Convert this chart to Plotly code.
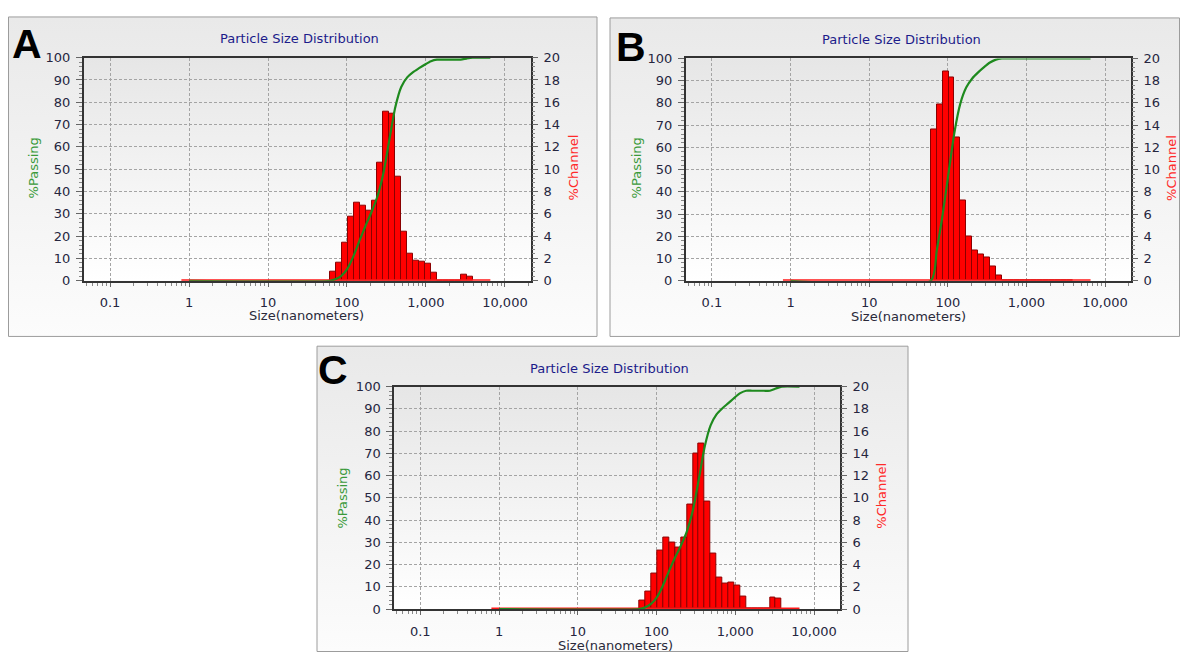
import base64
import numpy as np
import plotly.graph_objects as go

# ---------------- data ----------------
channel_edges_nm = [60.8, 72.3, 85.9, 102.2, 121.5, 144.5, 171.9, 204.4, 243.1, 289.0,
                    343.7, 408.8, 486.1, 578.1, 687.5, 817.6, 972.3, 1156, 1375, 1635,
                    1944, 2312, 2750, 3270, 3890]
channel_A = [0.8, 1.6, 3.4, 5.7, 7.0, 6.7, 6.3, 7.2, 10.6, 15.2, 15.0, 9.3,
             4.4, 2.4, 1.8, 1.7, 1.5, 0.7, 0, 0, 0, 0, 0.5, 0.4]
channel_B = [13.6, 15.9, 18.8, 18.3, 12.9, 7.2, 4.0, 2.7, 2.35, 2.1, 1.3, 0.5,
             0, 0, 0, 0, 0, 0, 0, 0, 0, 0, 0, 0]
channel_C = [0.8, 1.6, 3.2, 5.3, 6.4, 6.0, 5.5, 6.4, 9.4, 14.0, 14.9, 9.7,
             5.0, 2.8, 2.3, 2.4, 2.1, 1.1, 0, 0, 0, 0, 1.0, 0.9]
channel_span_nm = [0.8, 6540]
passing_span_nm = [1.0, 6540]
size_tick_vals = [0.1, 1, 10, 100, 1000, 10000]
size_tick_text = ["0.1", "1", "10", "100", "1,000", "10,000"]
panel_labels = ["A", "B", "C"]
chart_title = "Particle Size Distribution"
x_title = "Size(nanometers)"
y_left_title = "%Passing"
y_right_title = "%Channel"
channels = [channel_A, channel_B, channel_C]

# ---------------- layout geometry (window pixels) ----------------
OFF = 8                      # default page body margin
W, H = 1188 - 2 * OFF, 668 - 2 * OFF
panels = [
    dict(box=(8.5, 10, 597, 337), plot=(84, 51.7, 531, 280), letter=(27, 38), title=(299, 32.5),
         xt=(306, 316), yl=(33, 165), yr=(573, 164)),
    dict(box=(610, 11, 1179.5, 337), plot=(686, 52.5, 1131, 280), letter=(631, 41), title=(901, 33.5),
         xt=(909, 317), yl=(636, 165), yr=(1171.5, 165)),
    dict(box=(317, 347, 908, 659.5), plot=(394.3, 388.3, 840, 616), letter=(333, 371), title=(609, 369.5),
         xt=(616, 653), yl=(343, 503), yr=(882, 500)),
]
XR = [-1.33, 4.33]
FONT = "DejaVu Sans"
TICKC = "#26263f"


def px(x):
    return (x - OFF) / W


def py(y):
    return 1 - (y - OFF) / H


def grad_uri(c0, c1):
    svg = ('<svg xmlns="http://www.w3.org/2000/svg" width="100" height="100" preserveAspectRatio="none">'
           '<defs><linearGradient id="g" x1="0" y1="0" x2="0" y2="1">'
           f'<stop offset="0" stop-color="{c0}"/><stop offset="1" stop-color="{c1}"/>'
           '</linearGradient></defs><rect width="100" height="100" fill="url(#g)"/></svg>')
    return "data:image/svg+xml;base64," + base64.b64encode(svg.encode()).decode()


fig = go.Figure()
layout = dict(width=W, height=H, margin=dict(l=0, r=0, t=0, b=0), paper_bgcolor="white",
              plot_bgcolor="rgba(0,0,0,0)", showlegend=False, font=dict(family=FONT, size=13, color=TICKC))
images, shapes, annotations = [], [], []

edges = np.array(channel_edges_nm)
log_lo = np.log10(edges[:-1])
log_hi = np.log10(edges[1:])

for i, (p, vals) in enumerate(zip(panels, channels)):
    kb, ko = 2 * i + 1, 2 * i + 2
    xb_name = "x" if kb == 1 else f"x{kb}"
    yb_name = "y" if kb == 1 else f"y{kb}"
    xo_name, yo_name = f"x{ko}", f"y{ko}"
    x0, y0, x1, y1 = p["plot"]
    dx = [px(x0), px(x1)]
    dy = [py(y1), py(y0)]
    bx0, by0, bx1, by1 = p["box"]

    # backgrounds
    images.append(dict(source=grad_uri("#e9e9e9", "#fcfcfc"), xref="paper", yref="paper",
                       x=px(bx0), y=py(by0), sizex=px(bx1) - px(bx0), sizey=py(by0) - py(by1),
                       sizing="stretch", layer="below", xanchor="left", yanchor="top"))
    images.append(dict(source=grad_uri("#e6e6e6", "#ffffff"), xref="paper", yref="paper",
                       x=px(x0), y=py(y0), sizex=px(x1) - px(x0), sizey=py(y0) - py(y1),
                       sizing="stretch", layer="below", xanchor="left", yanchor="top"))
    shapes.append(dict(type="rect", xref="paper", yref="paper", x0=px(bx0), x1=px(bx1),
                       y0=py(by1), y1=py(by0), line=dict(color="#9c9c9c", width=1), layer="below"))

    vals = np.array(vals, dtype=float)
    # red channel baseline
    fig.add_trace(go.Scatter(x=np.log10(channel_span_nm), y=[0, 0], mode="lines",
                             line=dict(color="#ff1a1a", width=3), xaxis=xb_name, yaxis=yb_name,
                             hoverinfo="skip"))
    # channel bars
    fig.add_trace(go.Bar(x=(log_lo + log_hi) / 2, y=vals, width=log_hi - log_lo,
                         marker=dict(color="#ff0000", line=dict(color="#8a0000", width=1)),
                         xaxis=xb_name, yaxis=yb_name))
    # cumulative passing
    cum = np.cumsum(vals)
    cum = cum / cum[-1] * 100
    gx = [passing_span_nm[0], channel_edges_nm[0]] + list(edges[1:]) + [passing_span_nm[1]]
    gy = [0, 0] + list(cum) + [100]
    fig.add_trace(go.Scatter(x=gx, y=gy, mode="lines", line=dict(color="#1e8a1e", width=2.2,
                                                                   shape="spline", smoothing=0.6),
                             xaxis=xo_name, yaxis=yo_name, hoverinfo="skip"))

    tf = dict(family=FONT, size=13, color=TICKC)
    layout["xaxis" if kb == 1 else f"xaxis{kb}"] = dict(domain=dx, range=XR, type="linear",
                                                          anchor=yb_name, visible=False, fixedrange=True)
    layout["yaxis" if kb == 1 else f"yaxis{kb}"] = dict(
        domain=dy, range=[0, 20], anchor=xb_name, side="right", dtick=2, tick0=0,
        ticks="outside", ticklen=6, tickcolor="#666", showgrid=False, showline=False,
        zeroline=False, tickfont=tf, ticklabelstandoff=3,
        minor=dict(dtick=0.4, ticks="outside", ticklen=3, tickcolor="#888", showgrid=False))
    layout[f"xaxis{ko}"] = dict(
        type="log", range=XR, overlaying=xb_name, anchor=yo_name, tickmode="array",
        tickvals=size_tick_vals, ticktext=size_tick_text, ticks="outside", ticklen=4,
        tickcolor="#666", showgrid=True, gridcolor="#a4a4a4", griddash="3px,2px", gridwidth=1,
        showline=True, linecolor="#333333", linewidth=2, mirror=True, zeroline=False,
        tickfont=tf, ticklabelstandoff=5,
        minor=dict(ticks="outside", ticklen=3, tickcolor="#888", dtick="D1", showgrid=False))
    layout[f"yaxis{ko}"] = dict(
        range=[0, 100], overlaying=yb_name, anchor=xo_name, side="left", dtick=10, tick0=0,
        ticks="outside", ticklen=6, tickcolor="#666", showgrid=True, gridcolor="#a4a4a4",
        griddash="3px,2px", gridwidth=1, showline=True, linecolor="#333333", linewidth=2,
        mirror=True, zeroline=False, tickfont=tf, ticklabelstandoff=3,
        minor=dict(dtick=2, ticks="outside", ticklen=3, tickcolor="#888", showgrid=False))

    # texts
    annotations.append(dict(text=f"<b>{panel_labels[i]}</b>", x=px(p["letter"][0]), y=py(p["letter"][1]),
                            xref="paper", yref="paper", showarrow=False,
                            font=dict(family="Liberation Sans", size=41, color="#000000"),
                            xanchor="center", yanchor="middle"))
    annotations.append(dict(text=chart_title, x=px(p["title"][0]), y=py(p["title"][1]),
                            xref="paper", yref="paper", showarrow=False,
                            font=dict(family=FONT, size=13, color="#1c1c8a"),
                            xanchor="center", yanchor="middle"))
    annotations.append(dict(text=x_title, x=px(p["xt"][0]), y=py(p["xt"][1]),
                            xref="paper", yref="paper", showarrow=False,
                            font=dict(family=FONT, size=13, color="#2a2a3a"),
                            xanchor="center", yanchor="middle"))
    annotations.append(dict(text=y_left_title, x=px(p["yl"][0]), y=py(p["yl"][1]),
                            xref="paper", yref="paper", showarrow=False, textangle=-90,
                            font=dict(family=FONT, size=13, color="#3a9a3a"),
                            xanchor="center", yanchor="middle"))
    annotations.append(dict(text=y_right_title, x=px(p["yr"][0]), y=py(p["yr"][1]),
                            xref="paper", yref="paper", showarrow=False, textangle=-90,
                            font=dict(family=FONT, size=13, color="#ff2a2a"),
                            xanchor="center", yanchor="middle"))

layout["images"] = images
layout["shapes"] = shapes
layout["annotations"] = annotations
layout["bargap"] = 0
fig.update_layout(**layout)
fig.write_html("out.html")
